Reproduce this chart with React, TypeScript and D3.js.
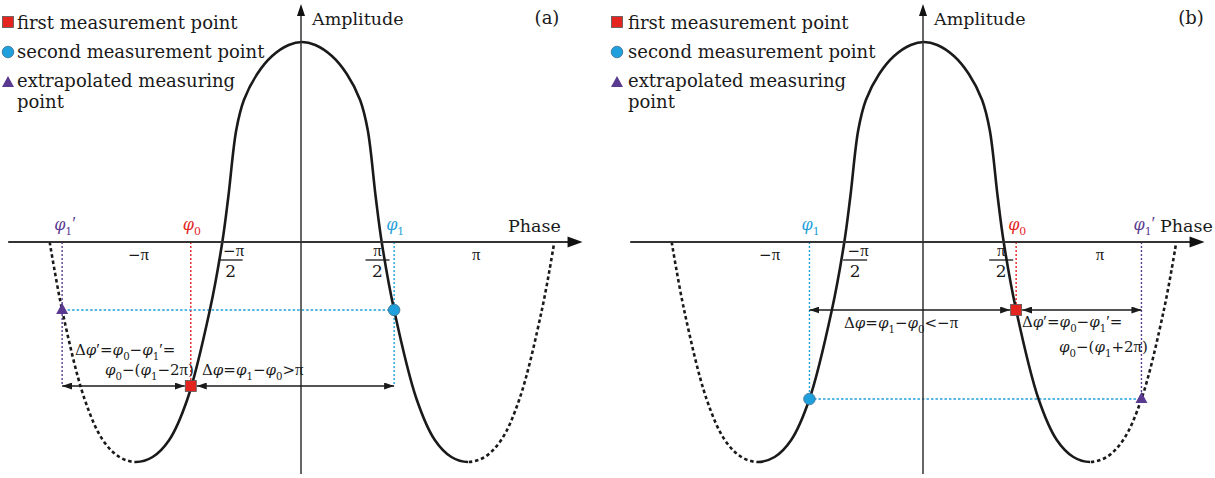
import React from "react";
import * as d3 from "d3";

const WIDTH = 1215;
const HEIGHT = 478;
const FONT = "'DejaVu Serif', serif";
const MATH_FONT = "'Liberation Serif', serif";

// the curve: phase in units of pi, amplitude with peak = 1
const PHASE = [
  -1.52, -1.445, -1.31, -1.2, -1.1, -1.0, -0.9, -0.8, -0.69, -0.555, -0.48, -0.444, -0.396, -0.35, -0.27, -0.18, -0.08,
  0, 0.08, 0.18, 0.27, 0.35, 0.396, 0.444, 0.48, 0.555, 0.69, 0.8, 0.9, 1.0, 1.1, 1.2, 1.31, 1.445, 1.52,
];
const AMPLITUDE = [
  0, -0.34, -0.785, -0.99, -1.075, -1.1, -1.075, -0.99, -0.785, -0.34, 0, 0.225, 0.56, 0.71, 0.84, 0.93, 0.985,
  1, 0.985, 0.93, 0.84, 0.71, 0.56, 0.225, 0, -0.34, -0.785, -0.99, -1.075, -1.1, -1.075, -0.99, -0.785, -0.34, 0,
];

// markers in order: first (phi0), second (phi1), extrapolated (phi1')
const PHASE_A = [-0.67, 0.555, -1.445];
const AMP_A = [-0.72, -0.34, -0.34];
const PHASE_B = [0.555, -0.69, 1.31];
const AMP_B = [-0.34, -0.785, -0.785];

const TICK_LABELS = ["−π", "−π/2", "π/2", "π"];
const TICKS_A = [-0.985, -0.43, 0.455, 1.05];
const TICKS_B = [-0.93, -0.415, 0.465, 1.06];

const LEGEND = ["first measurement point", "second measurement point", "extrapolated measuring", "point"];
const POINT_LABELS = ["φ0", "φ1", "φ1′"];

const RED = "#e3241f";
const BLUE = "#1f9fdb";
const PURPLE = "#5a3a90";
const INK = "#1a1a1a";
const COLORS = [RED, BLUE, PURPLE];

const PX_PER_PI = 166;

function MathText({ x, y, text, size, fill = INK, anchor = "start" }) {
  const parts = [];
  let shifted = false;
  let prev = "";
  Array.from(text).forEach((ch, i) => {
    const sub = /[0-9]/.test(ch) && prev === "φ";
    let dy = 0;
    if (sub && !shifted) {
      dy = size * 0.3;
      shifted = true;
    } else if (!sub && shifted) {
      dy = -size * 0.3;
      shifted = false;
    }
    const times = ch === "π" || ch === "′";
    parts.push(
      <tspan
        key={i}
        dy={dy || undefined}
        fontSize={sub ? size * 0.68 : times ? size * 1.12 : undefined}
        fontFamily={times ? MATH_FONT : undefined}
        fontStyle={ch === "φ" ? "italic" : undefined}
      >
        {ch}
      </tspan>
    );
    prev = ch;
  });
  return (
    <text x={x} y={y} fontSize={size} fill={fill} textAnchor={anchor} fontFamily={FONT}>
      {parts}
    </text>
  );
}

function Marker({ kind, x, y }) {
  if (kind === 0) return <rect x={x - 5.5} y={y - 5.5} width={11} height={11} fill={RED} stroke="#555" strokeWidth={0.8} />;
  if (kind === 1) return <circle cx={x} cy={y} r={5.8} fill={BLUE} stroke="#3a6f8f" strokeWidth={0.8} />;
  return <path d={`M${x},${y - 7} L${x + 6},${y + 4} L${x - 6},${y + 4} Z`} fill={PURPLE} />;
}

function Panel({ ox, tag, tagX, phaseX, phases, amps, ticks, legendMarkerX, legendTextX, notes }) {
  const center = ox + 302;
  const x = d3.scaleLinear().domain([-1, 1]).range([center - PX_PER_PI, center + PX_PER_PI]);
  const y = d3.scaleLinear().domain([-1.1, 1]).range([462, 42]);
  const y0 = y(0);

  const line = d3
    .line()
    .x((d) => x(d[0]))
    .y((d) => y(d[1]))
    .curve(d3.curveCatmullRom.alpha(0.5));
  const curvePath = line(PHASE.map((p, i) => [p, AMPLITUDE[i]]));

  const mx = phases.map((p) => x(p));
  const my = amps.map((a) => y(a));
  const arrowY = my[0];
  const axisL = x(-1.77);
  const axisR = x(1.69);
  const yAxisX = x(0) - 1;
  const id = "p" + ox;

  return (
    <g>
      <defs>
        <clipPath id={id + "mid"}>
          <rect x={x(-1)} y={0} width={x(1) - x(-1)} height={HEIGHT} />
        </clipPath>
        <clipPath id={id + "side"}>
          <rect x={ox} y={0} width={x(-1) - ox} height={HEIGHT} />
          <rect x={x(1)} y={0} width={ox + 620 - x(1)} height={HEIGHT} />
        </clipPath>
      </defs>

      {/* legend */}
      {LEGEND.map((t, i) => (
        <text key={t} x={legendTextX} y={[29, 58, 87, 108][i]} fontSize={18} fontFamily={FONT} fill={INK}>
          {t}
        </text>
      ))}
      {[0, 1, 2].map((k) => (
        <Marker key={k} kind={k} x={legendMarkerX} y={[22, 52, 83][k]} />
      ))}

      {/* dotted guides */}
      {mx.map((px, i) => (
        <line
          key={"v" + i}
          x1={px}
          x2={px}
          y1={y0}
          y2={Math.max(my[i], arrowY)}
          stroke={COLORS[i]}
          strokeWidth={1.4}
          strokeDasharray="2 2"
        />
      ))}
      <line x1={mx[1]} x2={mx[2]} y1={my[1]} y2={my[2]} stroke={BLUE} strokeWidth={1.6} strokeDasharray="2.5 2" />

      {/* curve: solid between -pi and pi, dashed outside */}
      <path d={curvePath} fill="none" stroke={INK} strokeWidth={2.6} clipPath={`url(#${id}mid)`} />
      <path
        d={curvePath}
        fill="none"
        stroke={INK}
        strokeWidth={2.6}
        strokeDasharray="3.5 2.8"
        clipPath={`url(#${id}side)`}
      />

      {/* axes */}
      <line x1={axisL} x2={axisR - 10} y1={y0} y2={y0} stroke="#333" strokeWidth={2} />
      <path d={`M${axisR},${y0} L${axisR - 15},${y0 - 5.5} L${axisR - 15},${y0 + 5.5} Z`} fill="#111" />
      <line x1={yAxisX} x2={yAxisX} y1={12} y2={474} stroke="#333" strokeWidth={1.5} />
      <path d={`M${yAxisX},4 L${yAxisX + 4},16 L${yAxisX - 4},16 Z`} fill="#111" />

      {/* difference arrows */}
      <line
        x1={Math.min(mx[1], mx[2])}
        x2={mx[0] - 6}
        y1={arrowY}
        y2={arrowY}
        stroke={INK}
        strokeWidth={1.5}
        markerStart="url(#arr)"
        markerEnd="url(#arr)"
      />
      <line
        x1={mx[0] + 6}
        x2={Math.max(mx[1], mx[2])}
        y1={arrowY}
        y2={arrowY}
        stroke={INK}
        strokeWidth={1.5}
        markerStart="url(#arr)"
        markerEnd="url(#arr)"
      />

      {/* markers on the curve */}
      {mx.map((px, i) => (
        <Marker key={"m" + i} kind={i} x={px} y={my[i]} />
      ))}

      {/* point labels above the axis */}
      {mx.map((px, i) => (
        <MathText key={"l" + i} x={px - 8} y={y0 - 12} text={POINT_LABELS[i]} size={16} fill={COLORS[i]} />
      ))}

      {/* tick labels */}
      {TICK_LABELS.map((t, i) => {
        const cx = x(ticks[i]);
        if (t.includes("/")) {
          const num = t.split("/")[0];
          return (
            <g key={t}>
              <MathText x={cx + (num.length > 1 ? 3 : 0)} y={y0 + 14} text={num} size={15} anchor="middle" />
              <line x1={cx - 12} x2={cx + 12} y1={y0 + 18} y2={y0 + 18} stroke={INK} strokeWidth={1.3} />
              <text x={cx} y={y0 + 35} fontSize={17} textAnchor="middle" fontFamily={FONT} fill={INK}>
                2
              </text>
            </g>
          );
        }
        return <MathText key={t} x={cx} y={y0 + 18} text={t} size={15} anchor="middle" />;
      })}

      <text x={phaseX} y={y0 - 10} fontSize={17.5} fontFamily={FONT} fill={INK}>
        Phase
      </text>
      <text x={yAxisX + 11} y={25} fontSize={17.5} fontFamily={FONT} fill={INK}>
        Amplitude
      </text>
      <text x={tagX} y={24} fontSize={18} textAnchor="middle" fontFamily={FONT} fill={INK}>
        {tag}
      </text>

      {notes.map((n) => (
        <MathText key={n.text} x={n.x} y={n.y} text={n.text} size={15} />
      ))}
    </g>
  );
}

export default function App() {
  return (
    <svg width={WIDTH} height={HEIGHT} style={{ position: "absolute", left: 0, top: 0, background: "#fff" }}>
      <defs>
        <marker
          id="arr"
          viewBox="0 0 10 7"
          refX={10}
          refY={3.5}
          markerWidth={10}
          markerHeight={7}
          markerUnits="userSpaceOnUse"
          orient="auto-start-reverse"
        >
          <path d="M0,0 L10,3.5 L0,7 Z" fill={INK} />
        </marker>
      </defs>
      <Panel
        ox={0}
        tag="(a)"
        tagX={547}
        phaseX={508}
        phases={PHASE_A}
        amps={AMP_A}
        ticks={TICKS_A}
        legendMarkerX={8}
        legendTextX={17}
        notes={[
          { text: "Δφ′=φ0−φ1′=", x: 75, y: 355 },
          { text: "φ0−(φ1−2π)", x: 105, y: 375 },
          { text: "Δφ=φ1−φ0>π", x: 202, y: 375 },
        ]}
      />
      <Panel
        ox={622}
        tag="(b)"
        tagX={1191}
        phaseX={1160}
        phases={PHASE_B}
        amps={AMP_B}
        ticks={TICKS_B}
        legendMarkerX={617}
        legendTextX={628}
        notes={[
          { text: "Δφ=φ1−φ0<−π", x: 844, y: 328 },
          { text: "Δφ′=φ0−φ1′=", x: 1022, y: 327 },
          { text: "φ0−(φ1+2π)", x: 1059, y: 352 },
        ]}
      />
    </svg>
  );
}
